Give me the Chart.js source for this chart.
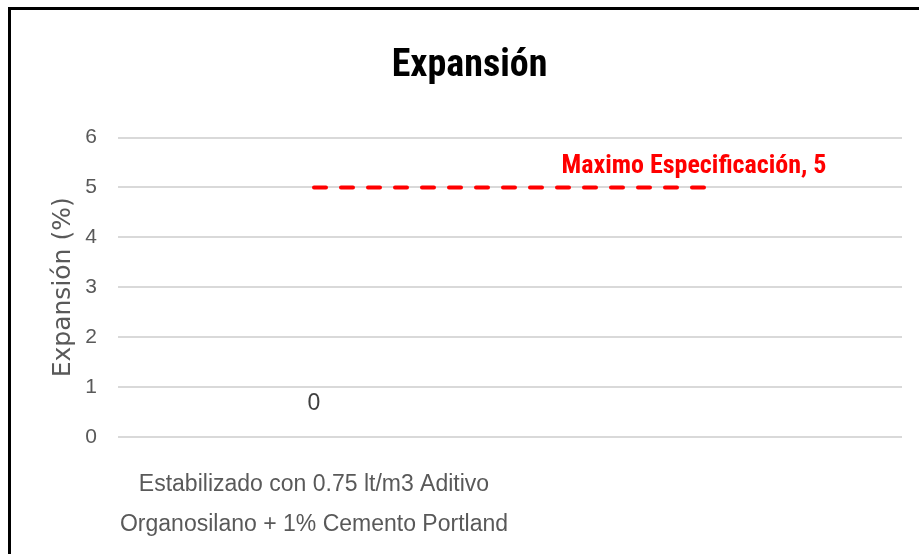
<!DOCTYPE html>
<html lang="es">
<head>
<meta charset="utf-8">
<title>Expansión</title>
<script src="https://cdn.jsdelivr.net/npm/chart.js@4/dist/chart.umd.min.js"></script>
<style>
  html, body { margin: 0; padding: 0; background: #fff; overflow: hidden; }
  #frame {
    position: absolute; left: 8px; top: 7px; width: 911px; height: 547px;
    border-top: 3px solid #000; border-left: 3px solid #000;
    box-sizing: border-box; pointer-events: none;
  }
  #chart { position: absolute; left: 0; top: 0; }
</style>
</head>
<body>
<canvas id="chart" width="919" height="554"></canvas>
<div id="frame"></div>
<script>
/* Expansión — ensayo de expansión vs. máximo de especificación */

// ─── Data ────────────────────────────────────────────────────────────────────

const categories = [
  ["Estabilizado con 0.75 lt/m3 Aditivo", "Organosilano + 1% Cemento Portland"],
  "",
];
const expansionValues = [0, null];
const specLabel = "Maximo Especificación";
const specValues = [5, 5];
const yMin = 0;
const yMax = 6;
const yStep = 1;

// ─── Fonts / colours ─────────────────────────────────────────────────────────

const GREY = "#595959";
const SANS = "'Liberation Sans', Arial, sans-serif";
const CONDENSED = "'Roboto Condensed', 'Liberation Sans Narrow', sans-serif";

// Value labels: "0" above the column, "name, value" above the last spec point
const valueLabels = {
  id: "valueLabels",
  afterDatasetsDraw(chart) {
    const { ctx } = chart;
    ctx.save();
    ctx.textAlign = "center";
    ctx.textBaseline = "middle";

    const barMeta = chart.getDatasetMeta(0);
    barMeta.data.forEach((el, i) => {
      const v = expansionValues[i];
      if (v == null) return;
      ctx.fillStyle = "#404040";
      ctx.font = `23px ${SANS}`;
      ctx.fillText(String(v), el.x, el.y - 33);
    });

    const lineMeta = chart.getDatasetMeta(1);
    const last = specValues.length - 1;
    const pt = lineMeta.data[last];
    if (pt) {
      ctx.fillStyle = "#ff0000";
      ctx.font = `bold 26px ${CONDENSED}`;
      ctx.fillText(`${specLabel}, ${specValues[last]}`, pt.x - 12, pt.y - 21);
    }
    ctx.restore();
  },
};

// ─── Chart ───────────────────────────────────────────────────────────────────

new Chart(document.getElementById("chart"), {
  type: "bar",
  data: {
    labels: categories,
    datasets: [
      {
        type: "bar",
        label: "Expansión",
        data: expansionValues,
        backgroundColor: "#4472c4",
        borderWidth: 0,
        order: 2,
      },
      {
        type: "line",
        label: specLabel,
        data: specValues,
        borderColor: "#ff0000",
        borderWidth: 4,
        borderDash: [12, 15],
        borderCapStyle: "round",
        pointRadius: 0,
        fill: false,
        order: 1,
      },
    ],
  },
  options: {
    responsive: false,
    animation: false,
    devicePixelRatio: 1,
    layout: { padding: { left: 37, right: 17, top: 0, bottom: 0 } },
    plugins: {
      legend: { display: false },
      tooltip: { enabled: false },
      title: {
        display: true,
        text: "Expansión",
        color: "#000",
        font: { family: CONDENSED, size: 38, weight: "bold" },
        padding: { top: 44, bottom: 48 },
      },
    },
    scales: {
      x: {
        grid: { display: false },
        border: { display: false },
        ticks: {
          color: GREY,
          font: { family: SANS, size: 23, lineHeight: 1.74 },
          padding: 20,
          maxRotation: 0,
          autoSkip: false,
        },
        afterFit: (scale) => { scale.height = 117; },
      },
      y: {
        min: yMin,
        max: yMax,
        grid: { color: "#d9d9d9", lineWidth: 2, drawTicks: false },
        border: { display: false },
        ticks: {
          stepSize: yStep,
          color: GREY,
          font: { family: SANS, size: 21 },
          padding: 21,
        },
        title: {
          display: true,
          text: "Expansión (%)",
          color: GREY,
          font: { family: "'DejaVu Sans', Verdana, sans-serif", size: 25 },
          padding: { top: 11, bottom: 0 },
        },
        afterFit: (scale) => { scale.width = 81; },
      },
    },
  },
  plugins: [valueLabels],
});
</script>
</body>
</html>
